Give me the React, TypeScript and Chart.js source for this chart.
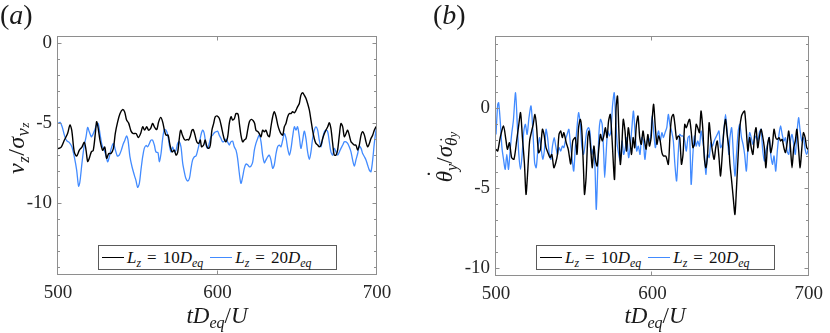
import React, { useEffect, useRef } from 'react';
import { Chart, registerables } from 'chart.js';
Chart.register(...registerables);

// ---------- data ----------
const T_MIN = 500;
const T_MAX = 700;
const xTickValues = [500, 600, 700];
const yTickValues = [0, -5, -10];
const leftYRange = [-14.5, 0.45];
const rightYRange = [-10.5, 4.5];

const BLACK = '#000000';
const BLUE = '#428bff';

// (a) black: L_z = 10 D_eq
const aBlackT = [
  500, 502, 504, 506, 507.5, 508.6, 510.2, 511.7, 513.4, 515,
  516.5, 517.6, 518.6, 519.6, 520.9, 522.1, 523.4, 524.2, 525, 526.3,
  528, 529.3, 530.5, 531.8, 533.2, 534.7, 535.9, 537.4, 538.9, 540.5,
  541.8, 543, 544.3, 545.8, 547.2, 548.9, 550.4, 551.8, 553.1, 554.3,
  555.6, 556.8, 558.1, 559.3, 560.4, 561.9, 563.1, 564.4, 565.6, 566.7,
  567.7, 569, 570.2, 571.5, 572.9, 574, 575, 576, 576.9, 578,
  579, 579.8, 581, 581.9, 583, 584, 584.8, 585.9, 587, 588.2,
  589.2, 590, 591.3, 592.3, 593.4, 594.5, 595.5, 596.5, 597.6, 598.6,
  599.9, 601.1, 602.2, 604.1, 605.3, 606.4, 607.4, 608.5, 609.5, 610.6,
  611.6, 612.9, 613.7, 614.7, 615.8, 616.8, 617.9, 618.9, 620, 621.2,
  622.4, 623.3, 624.1, 625.4, 626.2, 627.3, 628.3, 629.4, 630.4, 631.5,
  632.5, 633.5, 634.6, 635.6, 636.7, 637.8, 638.8, 639.8, 640.9, 641.9,
  642.9, 644, 645.1, 646.1, 647.1, 648.2, 649.2, 650.2, 651.3, 652.3,
  653.4, 654.4, 655.5, 656.5, 657.6, 658.6, 659.6, 660.7, 661.7, 662.8,
  663.8, 664.9, 665.9, 667, 668, 669.1, 670.1, 671.1, 672.2, 673.2,
  674.3, 675.3, 676.4, 677.4, 678.5, 679.5, 680.6, 681.6, 682.6, 683.7,
  684.7, 685.8, 686.8, 687.9, 688.9, 690, 691, 692.1, 693.1, 694.1,
  695.2, 696.2, 697.3, 698.3, 699.4, 700,
];
const aBlackV = [
  -6.6, -6.5, -6.06, -5.65, -5.12, -5.44, -6.8, -7.06, -6.69, -6.5,
  -6.2, -6.7, -7.4, -7.2, -6.8, -6.7, -5.65, -4.92, -5.2, -6.06,
  -6.7, -6.5, -7.2, -6.9, -6.9, -6.6, -5.65, -4.92, -4.4, -4.15,
  -4.3, -4.81, -5.0, -5.5, -5.65, -5.65, -5.9, -5.65, -5.23, -5.44,
  -5.23, -5.44, -5.33, -5.02, -5.23, -5.4, -4.92, -4.64, -4.92, -5.44,
  -5.75, -5.75, -6.37, -6.8, -6.69, -7.0, -6.85, -6.0, -5.44, -5.75,
  -5.98, -6.06, -6.02, -6.06, -5.8, -5.44, -5.4, -5.75, -6.17, -6.27,
  -6.06, -6.48, -6.37, -6.06, -6.48, -6.58, -6.37, -5.44, -5.02, -4.6,
  -4.56, -4.7, -5.1, -5.96, -6.17, -5.85, -5.02, -4.6, -4.81, -4.71,
  -4.4, -4.44, -5.02, -5.75, -6.17, -6.06, -5.96, -5.44, -4.92, -4.77,
  -4.85, -5.02, -5.44, -5.54, -5.65, -5.85, -5.44, -5.54, -5.44, -5.75,
  -5.85, -5.23, -4.6, -4.29, -4.6, -5.12, -5.44, -5.65, -5.75, -5.23,
  -5.02, -4.6, -4.4, -4.4, -4.29, -4.35, -4.2, -3.98, -3.77, -3.25,
  -3.1, -3.25, -3.46, -3.77, -4.19, -4.81, -5.44, -5.98, -6.27, -6.37,
  -6.48, -6.37, -5.98, -5.65, -5.44, -5.23, -4.98, -5.33, -6.27, -7.0,
  -7.0, -6.69, -5.75, -5.02, -5.23, -5.85, -5.65, -5.44, -5.75, -6.17,
  -6.27, -6.37, -6.37, -6.69, -6.37, -5.75, -5.54, -5.75, -6.17, -6.48,
  -6.27, -5.96, -5.75, -5.44, -5.23, -5.2,
];

// (a) blue: L_z = 20 D_eq
const aBlueT = [
  500, 501.3, 502.6, 504, 505.4, 507, 508.7, 510.2, 511.7, 512.9,
  513.7, 515, 516.3, 517.6, 518.6, 519.6, 520.9, 521.7, 523, 524.2,
  525.2, 526.3, 527.6, 529, 530, 531.1, 532.2, 533.4, 534.7, 535.9,
  537.2, 538.4, 539.7, 541, 541.8, 543, 543.9, 545.1, 546.4, 547.9,
  548.9, 549.9, 551, 552, 553.1, 554.1, 555.2, 556.2, 557.3, 558.3,
  559.3, 560.4, 561.4, 562.7, 563.5, 564.6, 565.6, 566.7, 567.7, 568.8,
  569.8, 570.8, 571.9, 572.9, 574, 575, 576, 577.1, 578.2, 579.4,
  580.2, 581.3, 582.4, 583.4, 584.4, 585.5, 586.5, 587.6, 588.6, 589.6,
  590.7, 591.7, 592.8, 593.8, 594.9, 595.9, 597, 598, 599.1, 600.1,
  601.1, 602.2, 603.2, 604.2, 605.3, 606.3, 607.4, 608.4, 609.5, 610.5,
  611.6, 612.6, 613.7, 614.7, 615.8, 616.8, 617.9, 619, 620, 621,
  622.1, 623.1, 624.1, 625.2, 626.2, 627.3, 628.3, 629.4, 630.4, 631.5,
  632.5, 633.5, 634.6, 635.6, 636.7, 637.7, 638.8, 639.8, 640.9, 641.9,
  643, 644, 645.1, 646.1, 647.1, 648.2, 649.2, 650.2, 651.3, 652.3,
  653.4, 654.4, 655.5, 656.5, 657.6, 658.6, 659.6, 660.7, 661.7, 662.8,
  663.8, 664.9, 665.9, 667, 668, 669.1, 670.1, 671.1, 672.2, 673.2,
  674.3, 675.3, 676.4, 677.4, 678.5, 679.5, 680.6, 681.6, 682.6, 683.7,
  684.7, 685.8, 686.8, 687.9, 688.9, 690, 691, 692.1, 693.1, 694.1,
  695.2, 696.2, 697.3, 698.3, 699.4, 700,
];
const aBlueV = [
  -5.02, -4.95, -5.23, -5.75, -6.1, -6.2, -6.48, -7.1, -7.94, -8.94,
  -8.7, -7.52, -6.48, -5.85, -5.27, -5.54, -5.85, -5.75, -5.44, -5.12,
  -5.02, -5.65, -6.37, -6.69, -7.0, -7.42, -7.1, -6.58, -6.27, -6.65,
  -7.06, -7.0, -6.69, -6.27, -6.1, -5.8, -6.06, -7.1, -7.73, -8.27,
  -8.6, -9.02, -8.77, -7.94, -7.1, -6.58, -6.4, -6.48, -6.27, -6.06,
  -6.06, -6.37, -6.8, -6.85, -7.42, -6.9, -5.98, -5.4, -5.44, -5.75,
  -6.37, -6.8, -6.48, -6.8, -6.69, -6.27, -6.17, -6.48, -7.52, -8.15,
  -8.46, -8.62, -8.46, -7.83, -7.3, -7.1, -7.06, -6.69, -6.27, -5.75,
  -5.44, -5.65, -6.37, -6.58, -6.23, -5.85, -5.75, -5.6, -5.54, -5.5,
  -5.75, -5.96, -6.17, -6.13, -6.0, -6.17, -6.37, -6.17, -6.13, -6.48,
  -6.69, -7.2, -8.15, -8.77, -8.35, -7.83, -7.56, -7.62, -7.73, -7.69,
  -7.42, -6.69, -6.27, -5.96, -5.75, -6.17, -7.0, -7.48, -7.3, -7.1,
  -7.0, -7.3, -7.83, -7.62, -6.9, -6.48, -6.37, -6.48, -6.06, -5.65,
  -5.96, -6.58, -7.0, -6.58, -5.85, -5.23, -5.44, -5.23, -5.85, -6.58,
  -6.06, -5.5, -5.98, -6.8, -7.27, -6.8, -5.98, -5.44, -5.23, -5.44,
  -6.06, -6.48, -5.98, -5.54, -5.44, -5.54, -6.17, -6.8, -7.0, -6.58,
  -6.8, -7.0, -6.8, -6.58, -6.37, -6.17, -6.17, -6.27, -6.48, -6.8,
  -7.3, -7.69, -7.3, -6.9, -6.44, -6.58, -6.9, -7.1, -7.3, -7.62,
  -7.94, -8.04, -7.3, -6.27, -5.44, -5.2,
];

// (b) black: L_z = 10 D_eq
const bBlackT = [
  500, 501.1, 502.7, 504.8, 506.3, 507.3, 508.6, 510, 511.5, 513.2,
  514.6, 515.7, 516.9, 518.2, 519.2, 520.3, 521.5, 522.8, 523.8, 524.9,
  525.9, 527.2, 528.4, 529.7, 530.7, 532, 533.2, 534.5, 535.7, 537,
  538.2, 539.3, 540.3, 541.4, 542.4, 543.4, 544.9, 546.2, 547.8, 549.1,
  550.7, 551.8, 552.8, 553.9, 554.9, 556, 556.6, 557.6, 558.7, 559.5,
  560.5, 561.6, 562.6, 563.7, 564.7, 565.8, 566.8, 567.9, 568.9, 570,
  571, 572, 573.1, 574.1, 575.8, 576.8, 577.7, 578.5, 579.5, 580.4,
  581.4, 582.5, 583.5, 584.6, 585.6, 586.7, 587.7, 588.7, 589.8, 590.8,
  591.9, 592.9, 594, 595, 596, 597.1, 598.1, 599.2, 599.8, 600.8,
  601.9, 602.9, 604, 605, 606.1, 607.1, 608.6, 610.2, 611.3, 612.3,
  613.4, 614.4, 615.5, 616.5, 617.5, 618.6, 619.6, 620.7, 621.7, 622.8,
  623.8, 624.8, 625.9, 626.9, 628, 629, 630.1, 631.1, 632.2, 633.2,
  634.2, 635.3, 636.3, 637.4, 638.4, 639.5, 640.5, 641.5, 642.6, 643.6,
  644.7, 645.7, 646.8, 647.8, 648.9, 649.6, 650.7, 651.7, 652.8, 653.8,
  654.9, 655.9, 657, 658, 659, 660.1, 661.1, 662.2, 663.2, 664.3,
  665.3, 666.3, 667.4, 668.4, 669.5, 670.5, 671.6, 672.6, 673.7, 674.7,
  675.7, 676.8, 677.8, 678.9, 679.9, 681, 682, 683, 684.1, 685.1,
  686.2, 687.2, 688.3, 689.3, 690.4, 691.4, 692.4, 693.5, 694.5, 695.6,
  696.6, 697.7, 698.7, 699.7, 700,
];
const bBlackV = [
  -2.58, -2.69, -1.85, -1.12, -1.96, -2.58, -2.17, -3.1, -3.2, -2.06,
  -1.02, -0.29, -1.85, -3.5, -5.4, -3.94, -2.06, -1.44, -1.02, -0.4,
  -1.12, -2.79, -2.58, -1.33, -1.65, -2.48, -2.79, -3.1, -2.9, -3.73,
  -3.42, -2.9, -1.65, -1.44, -1.85, -1.54, -2.17, -2.58, -3.5, -2.06,
  -1.85, -2.9, -1.23, -0.71, -1.44, -3.94, -5.4, -4.35, -1.85, -1.44,
  -2.48, -3.73, -2.38, -3.31, -3.63, -2.48, -1.65, -2.06, -1.75, -1.23,
  -1.85, -0.81, -0.4, -1.75, -4.46, 0.02, 0.75, -1.23, -3.52, -2.48,
  -0.71, -1.44, -2.69, -1.23, -1.96, -2.9, -1.85, -2.48, -1.02, -0.5,
  -1.85, -2.27, -1.44, -2.06, -2.58, -1.65, -2.38, -1.85, -0.81, 0.23,
  -1.23, -2.27, -1.75, -2.06, -2.79, -3.0, -3.0, -3.52, -1.65, -0.6,
  -0.4, -1.02, -1.96, -1.75, -1.85, -3.52, -2.9, -1.02, -1.23, -0.92,
  -0.71, -1.44, -2.48, -2.27, -1.02, -1.23, -1.54, -0.19, -1.23, -3.1,
  -3.73, -2.9, -0.92, -1.96, -2.69, -3.21, -2.48, -2.06, -3.1, -4.25,
  -2.9, -1.44, -0.71, -1.65, -2.48, -3.52, -4.56, -5.6, -6.65, -4.98,
  -2.9, -1.23, -0.5, -0.29, -0.19, -1.44, -2.69, -1.85, -2.48, -2.9,
  -1.75, -1.23, -2.48, -1.85, -1.33, -1.75, -2.48, -3.73, -2.27, -1.85,
  -2.79, -2.27, -1.33, -1.85, -1.96, -1.85, -2.06, -1.96, -2.48, -2.79,
  -2.17, -1.44, -2.48, -3.73, -2.48, -2.06, -1.33, -2.58, -3.73, -2.48,
  -1.54, -1.85, -2.48, -2.58, -2.6,
];

// (b) blue: L_z = 20 D_eq
const bBlueT = [
  500, 501.1, 501.7, 502.7, 503.8, 504.8, 505.9, 506.9, 508, 509,
  510, 511.1, 512.5, 513.6, 514.6, 515.7, 516.7, 517.8, 518.8, 519.9,
  521.1, 522.4, 523.6, 524.7, 525.7, 526.7, 527.8, 528.8, 529.9, 530.9,
  532, 533, 534.1, 535.1, 536.1, 537.2, 538.2, 539.3, 540.3, 541.4,
  542.4, 543.4, 544.5, 545.5, 546.6, 547.6, 548.7, 549.7, 550.7, 551.8,
  552.8, 553.9, 554.9, 556, 557, 558, 559.1, 560.1, 561.2, 562.2,
  563.3, 564.1, 564.9, 565.8, 566.8, 567.9, 568.9, 569.5, 570.4, 571.4,
  572.5, 573.5, 574.5, 575.6, 576.4, 577.5, 578.5, 579.5, 580.6, 581.6,
  582.7, 583.7, 584.8, 585.8, 586.9, 587.9, 589, 590, 591, 592.1,
  593.1, 594.2, 595.2, 596.3, 597.3, 598.3, 599.2, 599.8, 600.8, 601.9,
  602.9, 604, 605, 606.1, 607.1, 608.1, 609.2, 610.2, 611.3, 612.3,
  613.4, 614.4, 615.5, 616.5, 617.5, 618.6, 619.6, 620.7, 621.7, 622.8,
  623.8, 624.8, 625.9, 626.9, 628, 629, 630.1, 631.1, 632.2, 633.2,
  634.2, 635.3, 636.3, 637.4, 638.4, 639.5, 640.5, 641.5, 642.6, 643.6,
  644.7, 645.7, 646.8, 647.8, 648.9, 649.6, 650.7, 651.7, 652.8, 653.8,
  654.9, 655.9, 657, 658, 659, 660.1, 661.1, 662.2, 663.2, 664.3,
  665.3, 666.3, 667.4, 668.4, 669.5, 670.5, 671.6, 672.6, 673.7, 674.7,
  675.7, 676.8, 677.8, 678.9, 679.9, 681, 682, 683, 684.1, 685.1,
  686.2, 687.2, 688.3, 689.3, 690.4, 691.4, 692.4, 693.5, 694.5, 695.6,
  696.6, 697.7, 698.7, 699.7, 700,
];
const bBlueV = [
  -1.65, 0.23, 0.33, -0.8, -2.48, -3.2, -3.83, -2.9, -3.83, -2.69,
  -1.65, -0.8, 0.96, -1.02, -2.9, -3.83, -2.9, -1.44, -1.02, -1.65,
  -0.6, 0.13, -1.44, -3.42, -3.73, -2.69, -1.85, -2.48, -3.2, -2.69,
  -1.33, -1.85, -2.9, -3.2, -2.38, -1.85, -2.38, -2.9, -2.48, -2.69,
  -2.38, -2.48, -1.96, -1.65, -1.33, -2.27, -3.2, -3.94, -2.48, -1.23,
  -0.29, -1.02, -2.38, -2.9, -2.27, -1.44, -1.23, -1.54, -2.9, -2.58,
  -3.73, -6.33, -4.35, -1.65, -0.71, -1.02, -2.9, -4.35, -2.9, -1.44,
  -1.75, -1.44, 0.13, 0.96, -0.4, -2.27, -2.9, -3.31, -2.06, -2.9,
  -2.48, -1.85, -3.1, -2.48, -1.23, -0.19, -1.65, -2.69, -2.38, -2.9,
  -1.85, -2.06, -3.21, -2.27, -1.85, -2.06, -1.44, -0.5, -1.44, -2.48,
  -1.85, -1.44, -2.06, -1.54, -1.85, -1.54, -1.23, -0.4, -1.12, -1.44,
  -2.06, -3.52, -4.56, -2.9, -1.65, -1.75, -1.75, -2.06, -2.69, -1.85,
  -1.75, -4.77, -2.9, -1.75, -2.38, -2.06, -2.38, -1.44, -2.06, -2.79,
  -4.15, -2.9, -3.1, -2.17, -2.38, -2.06, -1.85, -1.65, -1.44, -2.48,
  -2.27, -1.44, -0.4, -1.44, -2.9, -1.85, -1.23, -2.69, -4.25, -2.9,
  -1.44, -1.02, -1.85, -2.27, -2.9, -3.94, -2.48, -1.54, -1.85, -2.27,
  -1.96, -1.75, -2.06, -1.54, -1.33, -2.58, -3.31, -2.69, -2.27, -1.85,
  -2.9, -3.52, -3.0, -3.94, -2.69, -1.65, -1.12, -1.65, -2.06, -1.85,
  -2.69, -2.9, -2.06, -1.65, -2.27, -2.9, -1.65, -0.6, -1.44, -2.06,
  -1.85, -2.58, -2.9, -2.58, -2.6,
];

// ---------- styling ----------
const SERIF = "'Liberation Serif', 'Times New Roman', serif";
const FRAME = '#8e8e8e';
const TEXT = '#262626';

function toPoints(ts: number[], vs: number[]) {
  const n = Math.min(ts.length, vs.length);
  const out: { x: number; y: number }[] = [];
  for (let i = 0; i < n; i++) out.push({ x: ts[i], y: vs[i] });
  return out;
}

const framePlugin = {
  id: 'matlabFrame',
  afterDatasetsDraw(chart: any) {
    const { ctx, chartArea: a, scales } = chart;
    const xs = scales.x;
    const ys = scales.y;
    ctx.save();
    ctx.strokeStyle = FRAME;
    ctx.lineWidth = 1;
    const L = Math.round(a.left) - 0.5;
    const R = Math.round(a.right) - 0.5;
    const T = Math.round(a.top) + 0.5;
    const B = Math.round(a.bottom) - 0.5;
    ctx.strokeRect(L, T, R - L, B - T);
    ctx.beginPath();
    for (const v of xTickValues) {
      const px = Math.round(xs.getPixelForValue(v)) - 0.5;
      ctx.moveTo(px, B); ctx.lineTo(px, B - 4);
      ctx.moveTo(px, T); ctx.lineTo(px, T + 4);
    }
    const lo = Math.ceil(ys.min);
    const hi = Math.floor(ys.max);
    for (let v = lo; v <= hi; v++) {
      const major = v % 5 === 0;
      const len = major ? 4 : 2.5;
      const py = Math.round(ys.getPixelForValue(v)) + 0.5;
      ctx.moveTo(L, py); ctx.lineTo(L + len, py);
      ctx.moveTo(R, py); ctx.lineTo(R - len, py);
    }
    ctx.stroke();
    ctx.restore();
  },
};

function makeConfig(
  black: { x: number; y: number }[],
  blue: { x: number; y: number }[],
  yRange: number[],
  padding: { left: number; right: number; top: number; bottom: number },
  tension: number,
): any {
  return {
    type: 'line',
    data: {
      datasets: [
        { label: 'Lz=10Deq', data: black, borderColor: BLACK, borderWidth: 1.4, pointRadius: 0, tension, fill: false },
        { label: 'Lz=20Deq', data: blue, borderColor: BLUE, borderWidth: 1.3, pointRadius: 0, tension, fill: false },
      ],
    },
    options: {
      responsive: false,
      animation: false,
      maintainAspectRatio: false,
      events: [],
      layout: { padding },
      plugins: { legend: { display: false }, tooltip: { enabled: false } },
      scales: {
        x: {
          type: 'linear',
          min: T_MIN,
          max: T_MAX,
          grid: { display: false, drawTicks: false },
          border: { display: false },
          afterBuildTicks: (s: any) => { s.ticks = xTickValues.map((v) => ({ value: v })); },
          afterFit: (s: any) => { s.height = 30; },
          ticks: {
            font: { family: SERIF, size: 19 },
            color: TEXT,
            padding: 7,
            maxRotation: 0,
            callback: (v: any) => String(v),
          },
        },
        y: {
          type: 'linear',
          min: yRange[0],
          max: yRange[1],
          grid: { display: false, drawTicks: false },
          border: { display: false },
          afterBuildTicks: (s: any) => { s.ticks = yTickValues.map((v) => ({ value: v })); },
          afterFit: (s: any) => { s.width = 58; },
          ticks: {
            font: { family: SERIF, size: 19 },
            color: TEXT,
            padding: 6,
            callback: (v: any) => String(v),
          },
        },
      },
    },
    plugins: [framePlugin],
  };
}

function Panel(props: { left: number; width: number; config: any }) {
  const ref = useRef<HTMLCanvasElement>(null);
  useEffect(() => {
    const chart = new Chart(ref.current as HTMLCanvasElement, props.config);
    return () => chart.destroy();
  }, []);
  return (
    <canvas
      ref={ref}
      width={props.width}
      height={333}
      style={{ position: 'absolute', left: props.left, top: 0, width: props.width, height: 333 }}
    />
  );
}

const subS: React.CSSProperties = { fontSize: '0.7em', verticalAlign: '-0.3em', lineHeight: 0 };
const subS2: React.CSSProperties = { fontSize: '0.75em', verticalAlign: '-0.3em', lineHeight: 0 };

function ThetaDot() {
  return (
    <span style={{ position: 'relative', display: 'inline-block', lineHeight: 1 }}>
      <i>θ</i>
      <span style={{ position: 'absolute', left: '0.2em', top: '-0.38em', fontStyle: 'normal', lineHeight: 1 }}>˙</span>
    </span>
  );
}

function LegendBox(props: { left: number }) {
  const txt: React.CSSProperties = { fontSize: 17, whiteSpace: 'nowrap', color: '#111' };
  const eq: React.CSSProperties = { margin: '0 6px' };
  return (
    <div
      style={{
        position: 'absolute', left: props.left, top: 245, width: 239, height: 25,
        boxSizing: 'border-box', border: '1px solid #5a5a5a', background: '#fff',
        display: 'flex', alignItems: 'center', paddingLeft: 3, fontFamily: SERIF,
      }}
    >
      <span style={{ display: 'inline-block', width: 22, height: 0, borderTop: `1.3px solid ${BLACK}` }} />
      <span style={{ ...txt, marginLeft: 3 }}>
        <i>L</i><i style={subS}>z</i><span style={eq}>=</span>10<i>D</i><i style={subS}>eq</i>
      </span>
      <span style={{ display: 'inline-block', width: 22, height: 0, borderTop: `1.3px solid ${BLUE}`, marginLeft: 7 }} />
      <span style={{ ...txt, marginLeft: 3 }}>
        <i>L</i><i style={subS}>z</i><span style={eq}>=</span>20<i>D</i><i style={subS}>eq</i>
      </span>
    </div>
  );
}

export default function App() {
  const leftCfg = makeConfig(
    toPoints(aBlackT, aBlackV), toPoints(aBlueT, aBlueV), leftYRange,
    { left: 0, right: 38, top: 36, bottom: 28 }, 0.3,
  );
  const rightCfg = makeConfig(
    toPoints(bBlackT, bBlackV), toPoints(bBlueT, bBlueV), rightYRange,
    { left: 0, right: 15, top: 36, bottom: 27 }, 0.25,
  );
  const title: React.CSSProperties = {
    position: 'absolute', fontFamily: SERIF, fontSize: 23, lineHeight: '23px', whiteSpace: 'nowrap', color: '#1a1a1a',
  };
  return (
    <div style={{ position: 'absolute', left: 0, top: 0, width: 830, height: 333, overflow: 'hidden', background: '#fff' }}>
      <Panel left={0} width={415} config={leftCfg} />
      <Panel left={438} width={392} config={rightCfg} />

      <div style={{ ...title, fontSize: 28, lineHeight: '28px', left: 0, top: 1 }}>(<i>a</i>)</div>
      <div style={{ ...title, fontSize: 28, lineHeight: '28px', left: 433, top: 1 }}>(<i>b</i>)</div>

      <div style={{ ...title, fontSize: 24, left: 16, top: 148, transform: 'translate(-50%, -50%) rotate(-90deg)', letterSpacing: '0.5px' }}>
        <i>v</i><i style={subS}>z</i>/<i>σ</i><i style={subS2}>v<span style={{ fontSize: '0.75em' }}>z</span></i>
      </div>
      <div style={{ ...title, fontSize: 23, left: 447, top: 157, transform: 'translate(-50%, -50%) rotate(-90deg)' }}>
        <ThetaDot /><i style={subS}>y</i>/<i>σ</i><span style={subS2}><ThetaDot /><i style={{ fontSize: '0.75em' }}>y</i></span>
      </div>

      <div style={{ ...title, left: 217, top: 304, transform: 'translateX(-50%)' }}>
        <i>t</i><i>D</i><i style={subS}>eq</i>/<i>U</i>
      </div>
      <div style={{ ...title, left: 655, top: 304, transform: 'translateX(-50%)' }}>
        <i>t</i><i>D</i><i style={subS}>eq</i>/<i>U</i>
      </div>

      <LegendBox left={98} />
      <LegendBox left={536} />
    </div>
  );
}
